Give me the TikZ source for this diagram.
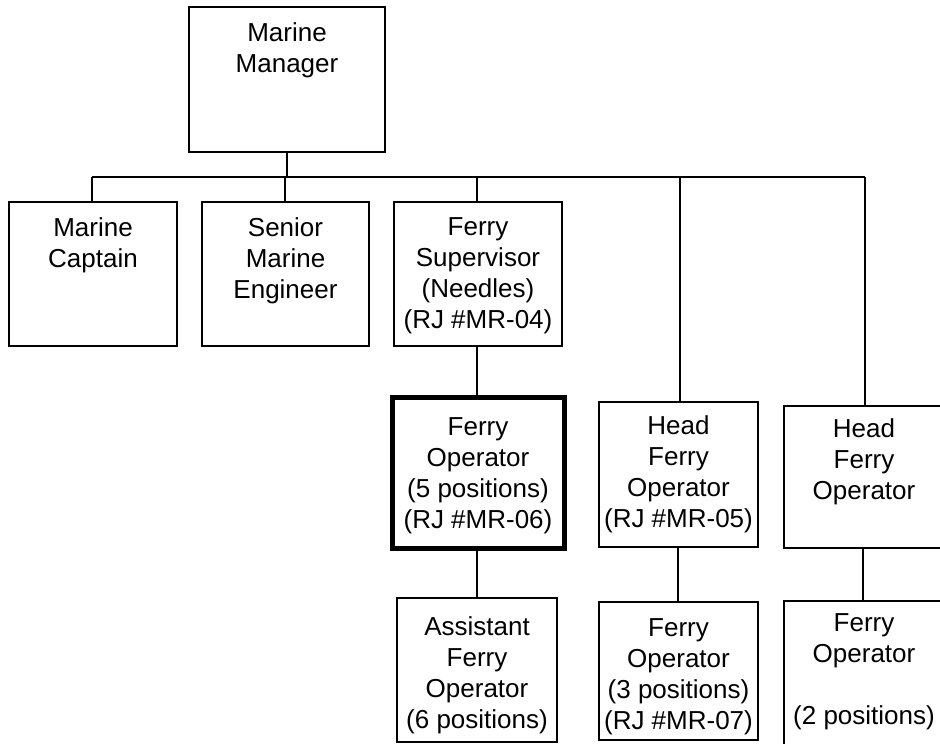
\documentclass[tikz,border=0pt]{standalone}
\usepackage{fontspec}
\setmainfont{Liberation Sans}
\begin{document}
\begin{tikzpicture}[x=1pt,y=-1pt,
  box/.style={draw=black, line width=1.8pt, inner sep=0pt, fill=white},
  thickbox/.style={box, line width=5pt},
  lbl/.style={inner sep=0pt, align=center, anchor=north, font=\fontsize{26}{31}\selectfont},
  link/.style={draw=black, line width=1.8pt}]
\useasboundingbox (0,0) rectangle (940,744);
\clip (0,0) rectangle (940,744);
\fill[white] (0,0) rectangle (940,744);
% boxes: name, x1, y1, x2, y2, style
\newcommand\orgbox[6]{\node[#6, minimum width={(#4-#2)*1pt}, minimum height={(#5-#3)*1pt}] (#1) at ({(#2+#4)/2},{(#3+#5)/2}) {};}
\orgbox{mm}{189}{7}{385}{152}{box}
\orgbox{cap}{9}{202}{177}{346}{box}
\orgbox{sen}{202}{202}{369}{346}{box}
\orgbox{sup}{394}{202}{562}{346}{box}
\orgbox{fosix}{392}{397}{564}{548}{thickbox}
\orgbox{hfofive}{599}{402}{758}{547}{box}
\orgbox{hfo}{784}{406}{944}{548}{box}
\orgbox{afo}{397}{598}{557}{742}{box}
\orgbox{fothree}{599}{602}{758}{740}{box}
\orgbox{fotwo}{784}{601}{944}{800}{box}
% texts
\node[lbl] (mm-t) at (287,22) {Marine\\Manager};
\node[lbl] (cap-t) at (93,217) {Marine\\Captain};
\node[lbl] (sen-t) at (285.5,217) {Senior\\Marine\\Engineer};
\node[lbl] (sup-t) at (478,217) {Ferry\\Supervisor\\(Needles)\\(RJ \#MR-04)};
\node[lbl] (fosix-t) at (478,417) {Ferry\\Operator\\(5 positions)\\(RJ \#MR-06)};
\node[lbl] (hfofive-t) at (678.5,415) {Head\\Ferry\\Operator\\(RJ \#MR-05)};
\node[lbl] (hfo-t) at (864,418) {Head\\Ferry\\Operator};
\node[lbl] (afo-t) at (477,616) {Assistant\\Ferry\\Operator\\(6 positions)};
\node[lbl] (fothree-t) at (678.5,618) {Ferry\\Operator\\(3 positions)\\(RJ \#MR-07)};
\node[lbl] (fotwo-t) at (864,613) {Ferry\\Operator\\\\(2 positions)};
% connectors
\coordinate (busL) at (92,177);
\coordinate (busR) at (865,177);
\draw[link] (busL) -- (busR);
\draw[link] (mm.south -| 287,0) -- (287,177);
\draw[link] (busL) -- (busL |- cap.north);
\draw[link] (285,177) -- (285,202);
\draw[link] (477,177) -- (477,202);
\draw[link] (680,177) -- (680,402);
\draw[link] (busR) -- (busR |- hfo.north);
\draw[link] (sup.south -| 477,0) -- (477,397);
\draw[link] (477,550) -- (afo.north -| 477,0);
\draw[link] (678,547) -- (fothree.north -| 678,0);
\draw[link] (863,548) -- (fotwo.north -| 863,0);
\end{tikzpicture}
\end{document}
